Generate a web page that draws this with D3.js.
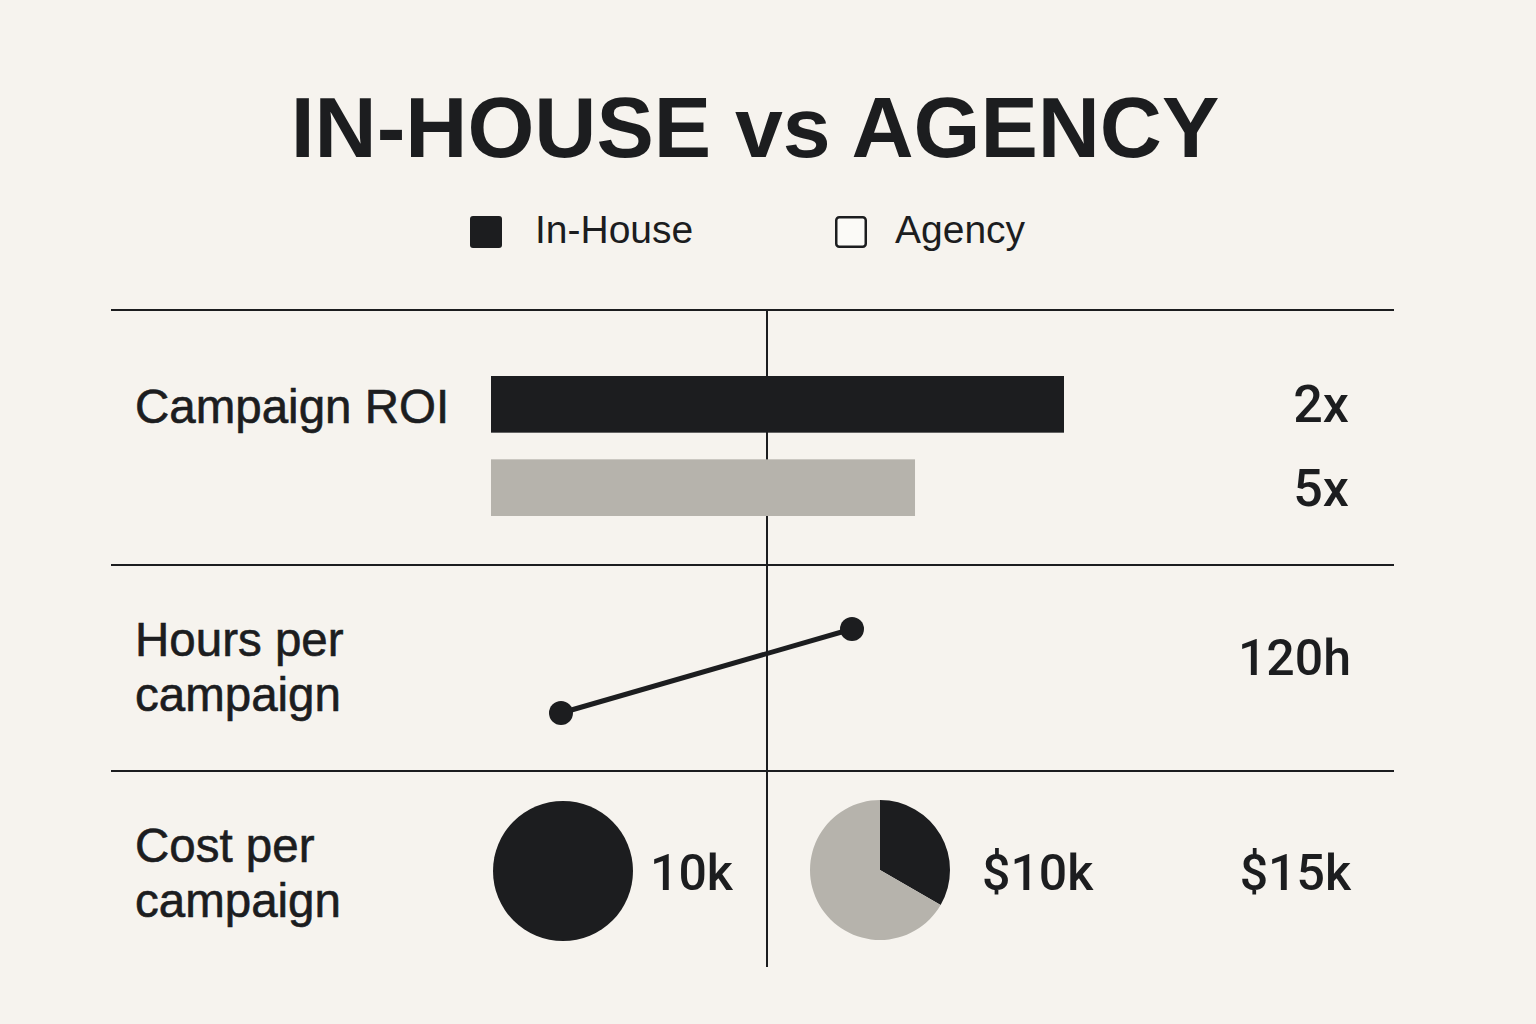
<!DOCTYPE html>
<html>
<head>
<meta charset="utf-8">
<script src="https://cdn.jsdelivr.net/npm/d3@7"></script>
<style>
  html, body { margin: 0; padding: 0; background: #f6f3ee; }
  svg { display: block; }
  text { font-family: "Liberation Sans", Arial, sans-serif; fill: #1c1d1f; }
  .value { font-family: Roboto, "Liberation Sans", sans-serif; font-weight: 500; }
</style>
</head>
<body>
<svg class="chart" width="1536" height="1024"></svg>
<script>
const series = ['In-House', 'Agency'];
const rowLabels = [['Campaign ROI'], ['Hours per', 'campaign'], ['Cost per', 'campaign']];

// campaign ROI bars (relative length) and printed values
const roiBars = [100, 74];
const roiLabels = ['2x', '5x'];

// hours per campaign line
const hoursValues = [40, 120];
const hoursLabel = '120h';

// cost per campaign pies
const inHouseCost = [10];
const agencyCost = [5, 10];
const costLabels = ['10k', '$10k', '$15k'];

const dark = '#1c1d1f';
const grey = '#b6b3ac';

const svg = d3.select('.chart');

svg.append('rect')
    .attr('width', 1536)
    .attr('height', 1024)
    .attr('fill', '#f6f3ee');

// title
svg.append('text')
    .attr('x', 755)
    .attr('y', 157)
    .attr('text-anchor', 'middle')
    .attr('font-size', 86)
    .attr('font-weight', 'bold')
    .text('IN-HOUSE vs AGENCY');

// legend
const legendX = d3.scalePoint().domain(series).range([470, 835]);
const legend = svg.selectAll('.legend')
    .data(series)
    .enter()
    .append('g')
    .attr('class', 'legend')
    .attr('transform', d => `translate(${legendX(d)}, 216)`);

legend.append('rect')
    .attr('x', (d, i) => i ? 1.25 : 0)
    .attr('y', (d, i) => i ? 1.25 : 0)
    .attr('width', (d, i) => i ? 29.5 : 32)
    .attr('height', (d, i) => i ? 29.5 : 32)
    .attr('rx', 3)
    .attr('fill', (d, i) => i ? '#fbfaf7' : dark)
    .attr('stroke', (d, i) => i ? dark : 'none')
    .attr('stroke-width', 2.5);

legend.append('text')
    .attr('x', (d, i) => i ? 60 : 65)
    .attr('y', 27)
    .attr('font-size', 39)
    .text(d => d);

// grid lines
const rowLines = [310, 565, 771];
svg.selectAll('.hline')
    .data(rowLines)
    .enter()
    .append('line')
    .attr('class', 'hline')
    .attr('x1', 111)
    .attr('x2', 1394)
    .attr('y1', d => d)
    .attr('y2', d => d)
    .attr('stroke', dark)
    .attr('stroke-width', 2);

svg.append('line')
    .attr('x1', 767)
    .attr('x2', 767)
    .attr('y1', 310)
    .attr('y2', 967)
    .attr('stroke', dark)
    .attr('stroke-width', 2);

// row labels
const labelY = [423, 656, 862];
svg.selectAll('.row-label')
    .data(rowLabels)
    .enter()
    .append('text')
    .attr('class', 'row-label')
    .attr('x', 135)
    .attr('y', (d, i) => labelY[i])
    .attr('font-size', 47.5)
    .attr('stroke', '#1c1d1f')
    .attr('stroke-width', 0.6)
    .selectAll('tspan')
    .data(d => d)
    .enter()
    .append('tspan')
    .attr('x', 135)
    .attr('dy', (d, i) => i ? 55 : 0)
    .text(d => d);

// ROI bars
const x = d3.scaleLinear().domain([0, 100]).range([491, 1064]);
const yBar = d3.scaleBand().domain(series).range([376, 516]).paddingInner(0.32);

svg.selectAll('.roi-bar')
    .data(roiBars)
    .enter()
    .append('rect')
    .attr('class', 'roi-bar')
    .attr('x', x(0))
    .attr('y', (d, i) => yBar(series[i]))
    .attr('width', d => x(d) - x(0))
    .attr('height', yBar.bandwidth())
    .attr('fill', (d, i) => i ? grey : dark);

svg.selectAll('.roi-label')
    .data(roiLabels)
    .enter()
    .append('text')
    .attr('class', 'roi-label value')
    .attr('x', 1349)
    .attr('y', (d, i) => yBar(series[i]) + yBar.bandwidth() / 2 + 18)
    .attr('text-anchor', 'end')
    .attr('font-size', 52)
    .text(d => d);

// hours line
const xLine = d3.scalePoint().domain(series).range([561, 852]);
const yLine = d3.scaleLinear().domain([0, 120]).range([755, 629]);

const line = d3.line()
    .x((d, i) => xLine(series[i]))
    .y(d => yLine(d));

svg.append('path')
    .datum(hoursValues)
    .attr('d', line)
    .attr('fill', 'none')
    .attr('stroke', dark)
    .attr('stroke-width', 5);

svg.selectAll('.hour-dot')
    .data(hoursValues)
    .enter()
    .append('circle')
    .attr('class', 'hour-dot')
    .attr('cx', (d, i) => xLine(series[i]))
    .attr('cy', d => yLine(d))
    .attr('r', 12)
    .attr('fill', dark);

svg.append('text')
    .attr('class', 'value')
    .attr('x', 1351)
    .attr('y', 675)
    .attr('text-anchor', 'end')
    .attr('font-size', 50)
    .text(hoursLabel);

// cost pies
const pie = d3.pie().sort(null);
const arc = d3.arc().innerRadius(0).outerRadius(70);

const pieIn = svg.append('g').attr('transform', 'translate(563, 871)');
pieIn.selectAll('path')
    .data(pie(inHouseCost))
    .enter()
    .append('path')
    .attr('d', arc)
    .attr('fill', dark);

const pieAg = svg.append('g').attr('transform', 'translate(880, 870)');
pieAg.selectAll('path')
    .data(pie(agencyCost))
    .enter()
    .append('path')
    .attr('d', arc)
    .attr('fill', (d, i) => i ? grey : dark);

const costX = [650, 982, 1351];
svg.selectAll('.cost-label')
    .data(costLabels)
    .enter()
    .append('text')
    .attr('class', 'cost-label value')
    .attr('x', (d, i) => costX[i])
    .attr('y', 890)
    .attr('text-anchor', (d, i) => i === 2 ? 'end' : 'start')
    .attr('font-size', 50)
    .text(d => d);
</script>
</body>
</html>
